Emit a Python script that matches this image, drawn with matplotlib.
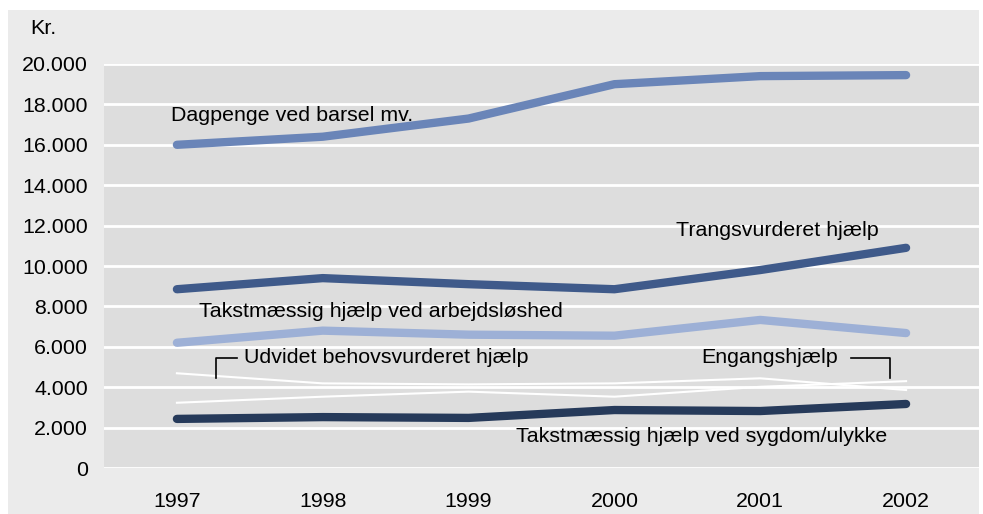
import matplotlib
matplotlib.use('Agg')
import matplotlib.pyplot as plt
from matplotlib.patches import Rectangle

plt.rcParams['font.family'] = ['Liberation Sans', 'DejaVu Sans']

years = [1997, 1998, 1999, 2000, 2001, 2002]
dagpenge = [16000, 16400, 17300, 19000, 19400, 19450]
trang = [8850, 9400, 9100, 8850, 9800, 10900]
takst_arb = [6200, 6800, 6600, 6550, 7330, 6680]
takst_syg = [2430, 2520, 2480, 2870, 2820, 3170]
udvidet = [4690, 4190, 4140, 4190, 4440, 3860]
engang = [3230, 3530, 3780, 3530, 4020, 4300]
yticks = [0, 2000, 4000, 6000, 8000, 10000, 12000, 14000, 16000, 18000, 20000]
ylabels = ['0', '2.000', '4.000', '6.000', '8.000', '10.000', '12.000',
           '14.000', '16.000', '18.000', '20.000']

W, H = 983, 514
fig = plt.figure(figsize=(W / 100, H / 100), dpi=100, facecolor='white')
bg = Rectangle((8 / W, 0), (979 - 8) / W, 1 - 10 / H,
               transform=fig.transFigure, facecolor='#ebebeb',
               edgecolor='none', zorder=-10)
fig.add_artist(bg)

ax = fig.add_axes([104 / W, 1 - 468 / H, (979 - 104) / W, (468 - 64) / H])
ax.set_zorder(1)
ax.set_facecolor('#dddddd')
for s in ax.spines.values():
    s.set_visible(False)

fs = 15.4
ax.set_xlim(1996.5, 2002.5)
ax.set_ylim(0, 20000)
ax.set_yticks(yticks)
ax.set_yticklabels(ylabels)
ax.set_xticks(years)
ax.set_xticklabels([str(y) for y in years])
ax.tick_params(length=0, labelsize=fs, colors='black')
ax.tick_params(axis='y', pad=11.5)
ax.tick_params(axis='x', pad=17)
ax.grid(axis='y', color='white', linewidth=2)
ax.set_axisbelow(True)

thick = dict(linewidth=6, solid_capstyle='round', solid_joinstyle='round')
ax.plot(years, dagpenge, color='#6a85b8', **thick)
ax.plot(years, trang, color='#3f5a8a', **thick)
ax.plot(years, takst_arb, color='#9db0d6', **thick)
ax.plot(years, takst_syg, color='#263a5a', **thick)
ax.plot(years, udvidet, color='white', linewidth=1.5)
ax.plot(years, engang, color='white', linewidth=1.5)

ax.text(1996.96, 17475, 'Dagpenge ved barsel mv.', fontsize=fs, ha='left', va='center')
ax.text(2000.42, 11780, 'Trangsvurderet hjælp', fontsize=fs, ha='left', va='center')
ax.text(1997.15, 7770, 'Takstmæssig hjælp ved arbejdsløshed', fontsize=fs, ha='left', va='center')
ax.text(1997.46, 5450, 'Udvidet behovsvurderet hjælp', fontsize=fs, ha='left', va='center')
ax.text(2001.53, 5450, 'Engangshjælp', fontsize=fs, ha='right', va='center')
ax.text(2001.87, 1535, 'Takstmæssig hjælp ved sygdom/ulykke', fontsize=fs, ha='right', va='center')

# brackets pointing to the thin lines
ax.plot([1997.27, 1997.27, 1997.41], [4455, 5450, 5450], color='black', linewidth=1.2)
ax.plot([2001.62, 2001.89, 2001.89], [5450, 5450, 4455], color='black', linewidth=1.2)

fig.text(30 / W, 1 - 28 / H, 'Kr.', fontsize=fs, ha='left', va='center')

fig.savefig('out.png', dpi=100, facecolor='white')
